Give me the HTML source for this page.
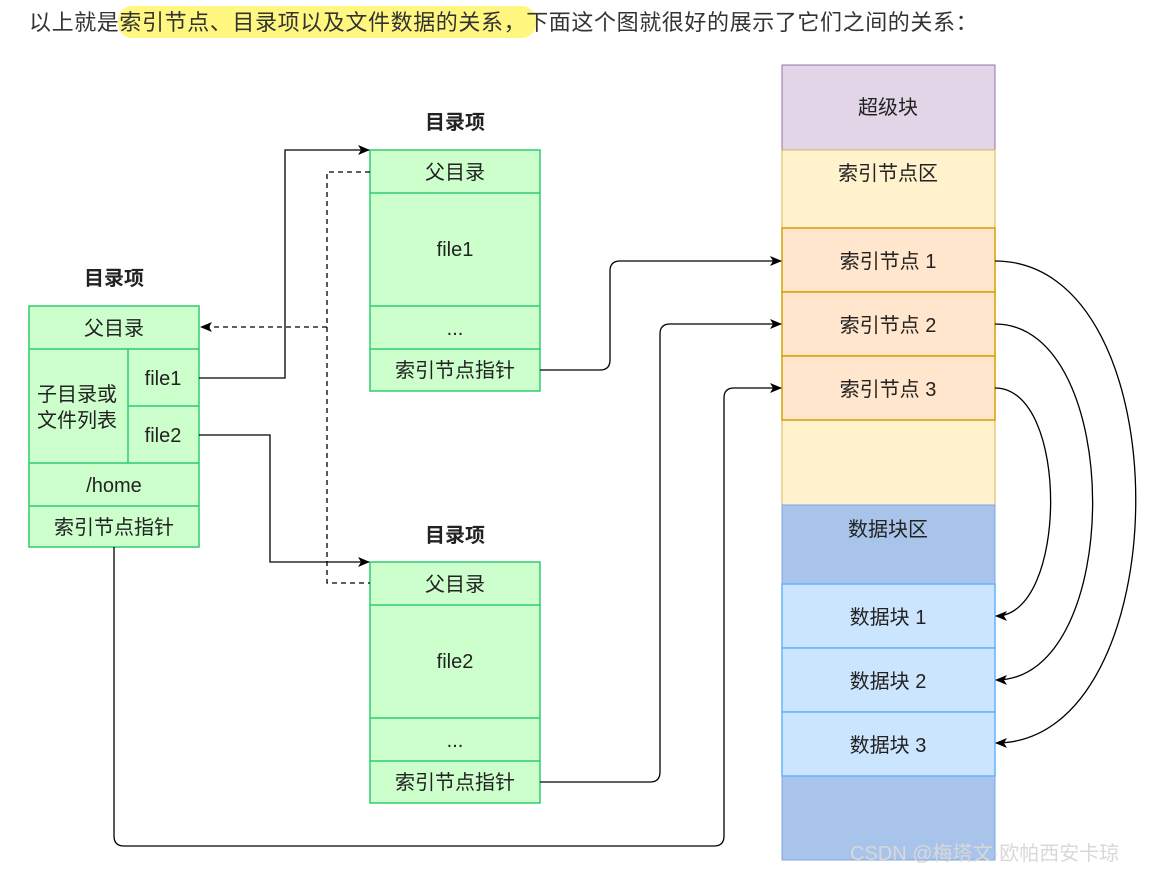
<!DOCTYPE html>
<html><head><meta charset="utf-8"><style>
html,body{margin:0;padding:0;background:#fff;width:1151px;height:872px;overflow:hidden}
svg{display:block}
text{font-family:"Liberation Sans","Noto Sans CJK SC",sans-serif;font-size:20px;fill:#222}
</style></head><body>
<svg width="1151" height="872" viewBox="0 0 1151 872">
<defs>
<marker id="a" markerWidth="12" markerHeight="10" refX="11" refY="5" orient="auto" markerUnits="userSpaceOnUse">
<path d="M0,0 L12,5 L0,10 L3,5 Z" fill="#000"/></marker>
</defs>
<!-- header -->
<rect x="118" y="6" width="418" height="32" rx="14" fill="#fff780"/>
<text x="29" y="30" style="font-size:22px;letter-spacing:0.6px;fill:#333">以上就是索引节点、目录项以及文件数据的关系，下面这个图就很好的展示了它们之间的关系：</text>

<g stroke="#2ecc71" stroke-width="1.5" fill="#ccffcc">
<rect x="29" y="306" width="170" height="241"/>
<line x1="29" y1="349" x2="199" y2="349"/><line x1="29" y1="463" x2="199" y2="463"/><line x1="29" y1="506" x2="199" y2="506"/>
<line x1="128" y1="349" x2="128" y2="463"/><line x1="128" y1="406" x2="199" y2="406"/>
<rect x="370" y="150" width="170" height="241"/>
<line x1="370" y1="193" x2="540" y2="193"/><line x1="370" y1="306" x2="540" y2="306"/><line x1="370" y1="349" x2="540" y2="349"/>
<rect x="370" y="562" width="170" height="241"/>
<line x1="370" y1="605" x2="540" y2="605"/><line x1="370" y1="718" x2="540" y2="718"/><line x1="370" y1="761" x2="540" y2="761"/>
</g>
<g text-anchor="middle">
<text x="114" y="285" style="font-weight:bold">目录项</text>
<text x="114" y="335">父目录</text>
<text x="77" y="401">子目录或</text><text x="77" y="427">文件列表</text>
<text x="163" y="385">file1</text><text x="163" y="442">file2</text>
<text x="114" y="492">/home</text>
<text x="114" y="534">索引节点指针</text>
<text x="455" y="129" style="font-weight:bold">目录项</text>
<text x="455" y="179">父目录</text>
<text x="455" y="256">file1</text>
<text x="455" y="335">...</text>
<text x="455" y="377">索引节点指针</text>
<text x="455" y="542" style="font-weight:bold">目录项</text>
<text x="455" y="591">父目录</text>
<text x="455" y="668">file2</text>
<text x="455" y="747">...</text>
<text x="455" y="789">索引节点指针</text>
</g>

<rect x="782" y="65" width="213" height="85" fill="#e1d5e7" stroke="#9673a6"/>
<rect x="782" y="150" width="213" height="355" fill="#fff2cc" stroke="#d6b656"/>
<g fill="#ffe6cc" stroke="#d6a000" stroke-width="1.5">
<rect x="782" y="228" width="213" height="64"/><rect x="782" y="292" width="213" height="64"/><rect x="782" y="356" width="213" height="64"/>
</g>
<rect x="782" y="505" width="213" height="355" fill="#a9c4eb" stroke="#7ea6e0"/>
<g fill="#cce5ff" stroke="#66b2ff" stroke-width="1.5">
<rect x="782" y="584" width="213" height="64"/><rect x="782" y="648" width="213" height="64"/><rect x="782" y="712" width="213" height="64"/>
</g>
<g text-anchor="middle">
<text x="888" y="114">超级块</text>
<text x="888" y="180">索引节点区</text>
<text x="888" y="268">索引节点 1</text>
<text x="888" y="332">索引节点 2</text>
<text x="888" y="396">索引节点 3</text>
<text x="888" y="536">数据块区</text>
<text x="888" y="624">数据块 1</text>
<text x="888" y="688">数据块 2</text>
<text x="888" y="752">数据块 3</text>
</g>

<g fill="none" stroke="#000" stroke-width="1.3">
<path d="M199,378 H285 V150 H369" marker-end="url(#a)"/>
<path d="M199,435 H270 V562 H369" marker-end="url(#a)"/>
<path d="M370,172 H327 V583 H370" stroke-dasharray="5,4"/>
<path d="M327,327 H201" stroke-dasharray="5,4" marker-end="url(#a)"/>
<path d="M540,370 H600 Q610,370 610,360 V271 Q610,261 620,261 H781" marker-end="url(#a)"/>
<path d="M540,782 H650 Q660,782 660,772 V334 Q660,324 670,324 H781" marker-end="url(#a)"/>
<path d="M114,547 V836 Q114,846 124,846 H714 Q724,846 724,836 V398 Q724,388 734,388 H781" marker-end="url(#a)"/>
<path d="M995,261 C1185,261 1180,743 996,743" marker-end="url(#a)"/>
<path d="M995,324 C1125,324 1125,680 996,680" marker-end="url(#a)"/>
<path d="M995,388 C1070,388 1068,616 996,616" marker-end="url(#a)"/>
</g>
<text x="850" y="860" style="font-size:20px;fill:#d8d8d8">CSDN @梅塔文·欧帕西安卡琼</text>
</svg>
</body></html>
